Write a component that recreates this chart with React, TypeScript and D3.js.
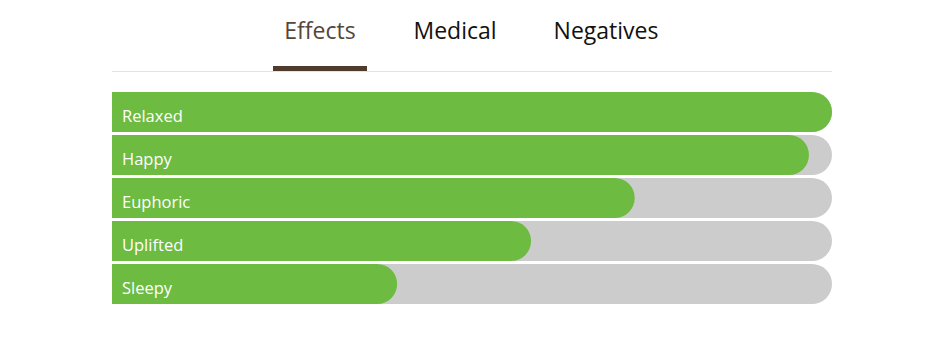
import React, { useEffect, useRef } from "react";
import * as d3 from "d3";

const tabs = ["Effects", "Medical", "Negatives"];
const activeTab = "Effects";
const effects = ["Relaxed", "Happy", "Euphoric", "Uplifted", "Sleepy"];
const scores = [100, 96.8, 72.6, 58.2, 39.6];

const WIDTH = 942;
const HEIGHT = 362;

// bar with square left end and round right end
function barPath(x0: number, y: number, w: number, h: number) {
    const r = Math.min(h / 2, w);
    return `M${x0},${y}H${x0 + w - r}A${r},${r} 0 0 1 ${x0 + w},${y + r}` +
        `V${y + h - r}A${r},${r} 0 0 1 ${x0 + w - r},${y + h}H${x0}Z`;
}

export default function App() {
    const ref = useRef<SVGSVGElement>(null);

    useEffect(() => {
        const svg = d3.select(ref.current);
        svg.selectAll("*").remove();

        const margin = { left: 112, right: 110 };

        const x = d3.scaleLinear()
            .domain([0, 100])
            .range([margin.left, WIDTH - margin.right]);

        const y = d3.scaleBand()
            .domain(effects)
            .range([92, 304])
            .paddingInner(3 / 43)
            .paddingOuter(0);

        // tabs
        const tabX = d3.scaleOrdinal<string, number>()
            .domain(tabs)
            .range([320, 455, 606]);

        svg.selectAll(".tab")
            .data(tabs)
            .enter()
            .append("text")
            .attr("x", d => tabX(d))
            .attr("y", 39)
            .attr("text-anchor", "middle")
            .attr("font-family", "'Open Sans', sans-serif")
            .attr("font-size", "23px")
            .attr("fill", d => d === activeTab ? "#55463a" : "#111")
            .text(d => d);

        svg.append("line")
            .attr("x1", x(0))
            .attr("x2", x(100))
            .attr("y1", 71.5)
            .attr("y2", 71.5)
            .attr("stroke", "#e3e3e3")
            .attr("stroke-width", 1);

        svg.append("rect")
            .attr("x", tabX(activeTab) - 47)
            .attr("y", 66)
            .attr("width", 94)
            .attr("height", 5)
            .attr("fill", "#4f3a2c");

        // background tracks
        svg.selectAll(".track")
            .data(effects)
            .enter()
            .append("path")
            .attr("d", d => barPath(x(0), y(d)!, x(100) - x(0), y.bandwidth()))
            .attr("fill", "#cccccc");

        // value bars
        svg.selectAll(".bar")
            .data(effects)
            .enter()
            .append("path")
            .attr("d", (d, i) => barPath(x(0), y(d)!, x(scores[i]) - x(0), y.bandwidth()))
            .attr("fill", "#6dbb41");

        svg.selectAll(".label")
            .data(effects)
            .enter()
            .append("text")
            .attr("x", x(0) + 10)
            .attr("y", d => y(d)! + y.bandwidth() / 2 + 9.5)
            .attr("font-family", "'Open Sans', sans-serif")
            .attr("font-size", "16.5px")
            .attr("fill", "#fff")
            .text(d => d);
    }, []);

    return (
        <svg ref={ref} width={WIDTH} height={HEIGHT}
            style={{ position: "absolute", left: 0, top: 0, background: "#fff" }} />
    );
}
